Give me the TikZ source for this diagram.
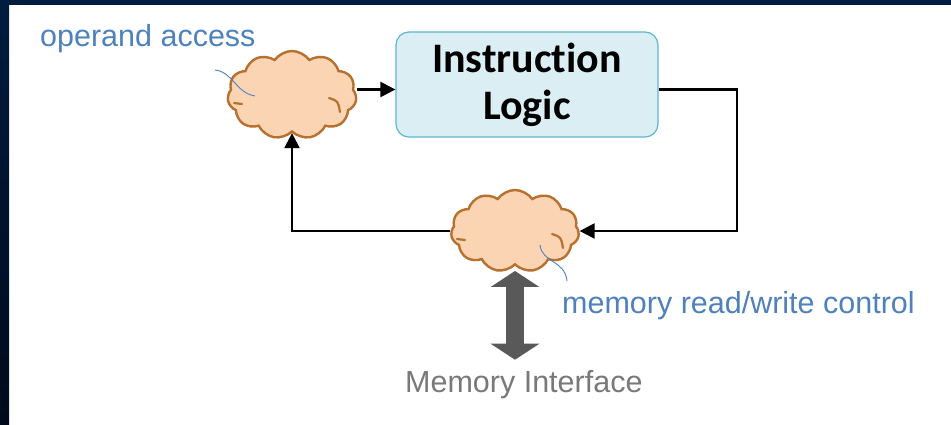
\documentclass[tikz,border=0pt]{standalone}
\usepackage{fontspec}
\setmainfont{Liberation Sans}
\newfontfamily\logicfont[Ligatures={NoCommon,NoRare,NoDiscretionary}]{Carlito}
\usepackage{tikz}
\usetikzlibrary{calc}
\usetikzlibrary{arrows.meta}
\usetikzlibrary{shapes.symbols}

\definecolor{slidenavy}{HTML}{001C3E}
\definecolor{slidedeep}{HTML}{000A1C}
\definecolor{logicfill}{HTML}{DBEEF4}
\definecolor{logicedge}{HTML}{5DB7CF}
\definecolor{puff}{HTML}{FBD4B4}
\definecolor{puffedge}{HTML}{B8702F}
\definecolor{notes}{HTML}{4F81BD}
\definecolor{busgray}{HTML}{595959}

\tikzset{
  logicbox/.style={draw=logicedge, fill=logicfill, line width=1.2pt, rounded corners=13pt,
    minimum width=262pt, minimum height=105pt, align=center,
    font=\logicfont\bfseries\fontsize{42}{47}\selectfont},
  blob/.style={cloud, cloud puffs=11, cloud puff arc=110, cloud ignores aspect,
    draw=puffedge, fill=puff, line width=2.4pt, inner sep=0pt},
  curl/.style={draw=puffedge, line width=2.2pt, line cap=round},
  flow/.style={line width=2.2pt, -{Triangle[length=15pt,width=15pt]}},
  callout/.style={draw=notes, line width=0.9pt},
  notelabel/.style={text=notes, inner sep=0pt, font=\fontsize{30.5}{36}\selectfont},
  buslabel/.style={text=gray!95!black, inner sep=0pt, font=\fontsize{30.5}{36}\selectfont},
  bus/.style={draw=busgray, line width=18pt,
    {Triangle[length=16pt,width=48pt]}-{Triangle[length=16pt,width=48pt]}}
}

\begin{document}
\begin{tikzpicture}[x=1pt, y=-1pt]
                \useasboundingbox (0,0) rectangle (951,425);
                \fill[white] (0,0) rectangle (951,425);
                \shade[top color=slidenavy, bottom color=slidedeep] (0,0) rectangle (9,425);
                \fill[slidenavy] (0,0) rectangle (951,5);

                \node[logicbox] (logic) at (527,84.5) {Instruction\\Logic};
                \node[blob, minimum width=129pt, minimum height=88pt] (opnd) at (292,95) {};
                \node[blob, minimum width=128pt, minimum height=82pt] (mem) at (515,231) {};
                \coordinate (lvl) at (0,89.5);
                \coordinate (turn) at (737,160);

                % little inner folds of the clouds
                \foreach \c in {opnd,mem} {
                    \draw[curl] ($(\c)+(-58,8)$) -- ($(\c)+(-50,9)$);
                    \draw[curl] ($(\c)+(37,3)$) .. controls ($(\c)+(46,6)$) .. ($(\c)+(48,17)$);
                }

                \draw[flow] (opnd.east |- lvl) -- (logic.west |- lvl);
                \draw[flow] (logic.east |- lvl) -| (turn) |- (mem.east);
                \draw[flow] (mem.west) -| (opnd.south);

                \node[notelabel, anchor=base west] (opnlabel) at (40,47) {operand access};
                \node[notelabel, anchor=base west] (memlabel) at (562,313) {memory read/write control};
                \node[buslabel, anchor=base west] (iface) at (405,392) {Memory Interface};

                \draw[callout] (215,70) .. controls (233,72) and (236,93) .. (255,96);
                \draw[callout] (540,245) .. controls (542,263) and (565,260) .. (567,281);

                \draw[bus, shorten <=5pt, shorten >=10pt] (mem.south) -- (mem.south |- iface.north);
            \end{tikzpicture}
\end{document}
